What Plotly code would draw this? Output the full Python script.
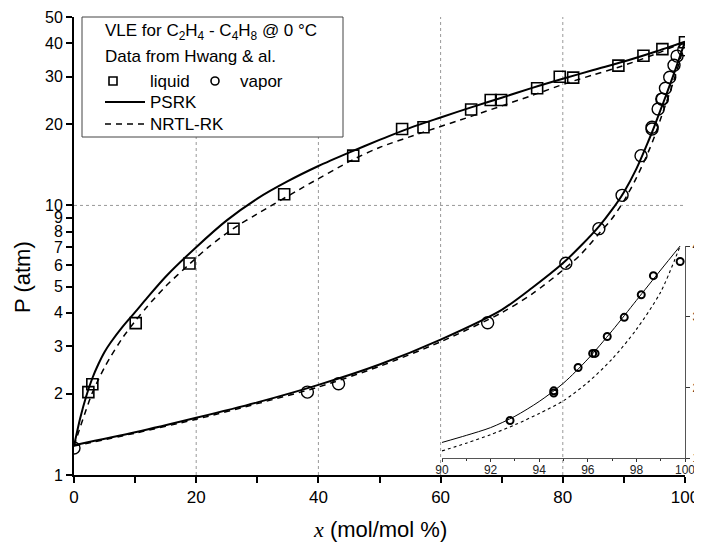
import plotly.graph_objects as go
import math

# ---------------- data ----------------
# PSRK bubble (liquid) curve
psrk_liq_x = [0, 1, 2, 3, 4, 5, 6, 8, 10, 12, 15, 20, 25, 30, 35, 40, 45, 50, 55, 60, 65, 70, 75, 80, 85, 90, 95, 100]
psrk_liq_p = [1.28, 1.62, 1.96, 2.285, 2.58, 2.86, 3.10, 3.56, 4.02, 4.55, 5.44, 7.0, 8.8, 10.6, 12.3, 14.0, 15.7, 17.5, 19.4, 21.2, 23.1, 25.1, 27.3, 29.5, 31.8, 34.2, 37.1, 40.5]
# PSRK dew (vapor) curve
psrk_vap_x = [0, 10, 20, 30, 40, 50, 60, 70, 75, 80, 83, 86, 88, 90, 92, 94, 95, 96, 97, 98, 99, 100]
psrk_vap_p = [1.29, 1.44, 1.63, 1.86, 2.16, 2.57, 3.18, 4.1, 4.95, 6.1, 7.1, 8.4, 9.6, 11.2, 13.6, 17.3, 19.7, 22.6, 26.0, 30.0, 34.8, 40.5]
# NRTL-RK bubble curve
nrtl_liq_x = [0, 1, 2, 3, 4, 5, 6, 8, 10, 12, 15, 19, 22, 26, 30, 37, 45.7, 50, 57.2, 65, 70, 75, 80.6, 85, 89, 95, 100]
nrtl_liq_p = [1.28, 1.50, 1.75, 2.02, 2.26, 2.51, 2.75, 3.24, 3.72, 4.22, 5.01, 6.09, 7.0, 8.19, 9.3, 11.5, 14.8, 16.4, 18.7, 21.4, 23.4, 25.6, 28.4, 30.5, 32.5, 36.3, 40.5]
# NRTL-RK dew curve
nrtl_vap_x = [0, 10, 20, 30, 40, 50, 60, 70, 75, 80, 83, 86, 88, 90, 92, 94, 95, 96, 97, 98, 99, 100]
nrtl_vap_p = [1.28, 1.43, 1.61, 1.84, 2.12, 2.53, 3.12, 4.0, 4.7, 5.75, 6.6, 7.9, 8.9, 10.4, 12.6, 15.8, 18.0, 20.9, 24.3, 28.3, 33.5, 40.5]

# Experimental data (Hwang & al.)
liq_x = [2.35, 3.0, 10.1, 18.9, 26.1, 34.4, 45.7, 53.7, 57.2, 65.0, 68.2, 69.9, 75.8, 79.5, 81.7, 89.1, 93.2, 96.3, 100]
liq_p = [2.03, 2.17, 3.66, 6.09, 8.19, 11.0, 15.3, 19.2, 19.5, 22.7, 24.6, 24.6, 27.2, 30.0, 29.8, 33.0, 35.9, 38.0, 40.3]
vap_x = [0, 38.2, 43.3, 67.7, 80.5, 85.9, 89.7, 92.8, 94.6, 94.6, 95.6, 96.2, 96.3, 96.8, 97.5, 98.2, 98.7, 99.8]
vap_p = [1.26, 2.03, 2.18, 3.67, 6.1, 8.2, 10.9, 15.3, 19.5, 19.2, 22.8, 24.8, 24.8, 27.2, 29.9, 33.1, 35.8, 37.8]

# Inset (zoom on vapor branch 90-100 %)
inset_psrk_x = [90, 91, 92, 93, 94, 95, 96, 97, 98, 99, 99.8]
inset_psrk_p = [12.2, 13.2, 14.3, 15.9, 18.0, 20.6, 24.0, 28.0, 32.3, 36.6, 40.0]
inset_nrtl_x = [90, 91, 92, 93, 94, 95, 96, 97, 98, 99, 99.8]
inset_nrtl_p = [11.0, 12.1, 13.3, 14.7, 16.3, 18.1, 20.7, 24.0, 28.2, 33.5, 40.0]

y_tickvals = [1, 2, 3, 4, 5, 6, 7, 8, 9, 10, 20, 30, 40, 50]
x_tickvals = [0, 20, 40, 60, 80, 100]
grid_x = [20, 40, 60, 80]
grid_y = [10]

FONT = "Liberation Sans, Arial, sans-serif"
# page body has an 8px margin: figure drawn at (8, 8) in the 702x543 window
OFF = 8
W, H = 702 - OFF, 543 - OFF
# plot area in window pixels (reference)
PL, PR, PT, PB = 74, 685, 17, 475
L, R, T, B = PL - OFF, W - (PR - OFF), PT - OFF, H - (PB - OFF)
PW, PH = PR - PL, PB - PT


def px(xp):
    return (xp - PL) / PW


def py(yp):
    return (PB - yp) / PH


YMAX = 50
fig = go.Figure()

solid = dict(color="black", width=2)
dashed = dict(color="black", width=1.5, dash="6px,5px")
sp = dict(shape="spline", smoothing=0.8)

fig.add_trace(go.Scatter(x=psrk_liq_x, y=psrk_liq_p, mode="lines", line=dict(solid, **sp)))
fig.add_trace(go.Scatter(x=psrk_vap_x, y=psrk_vap_p, mode="lines", line=dict(solid, **sp)))
fig.add_trace(go.Scatter(x=nrtl_liq_x, y=nrtl_liq_p, mode="lines", line=dict(dashed, **sp)))
fig.add_trace(go.Scatter(x=nrtl_vap_x, y=nrtl_vap_p, mode="lines", line=dict(dashed, **sp)))
fig.add_trace(go.Scatter(x=liq_x, y=liq_p, mode="markers",
                         marker=dict(symbol="square-open", size=11, color="black", line=dict(width=1.6))))
fig.add_trace(go.Scatter(x=vap_x, y=vap_p, mode="markers",
                         marker=dict(symbol="circle-open", size=12, color="black", line=dict(width=1.4))))

# inset
fig.add_trace(go.Scatter(x=inset_psrk_x, y=inset_psrk_p, xaxis="x2", yaxis="y2", mode="lines",
                         line=dict(color="black", width=1, **sp)))
fig.add_trace(go.Scatter(x=inset_nrtl_x, y=inset_nrtl_p, xaxis="x2", yaxis="y2", mode="lines",
                         line=dict(color="black", width=1.1, dash="dot", **sp)))
fig.add_trace(go.Scatter(x=vap_x, y=vap_p, xaxis="x2", yaxis="y2", mode="markers",
                         marker=dict(symbol="circle-open", size=7, color="black", line=dict(width=2))))

shapes = []
for gx in grid_x:
    shapes.append(dict(type="line", xref="x", yref="paper", x0=gx, x1=gx, y0=0, y1=1,
                       line=dict(color="#999999", width=1, dash="dot"), layer="below"))
for gy in grid_y:
    yy = math.log10(gy) / math.log10(YMAX)
    shapes.append(dict(type="line", xref="paper", yref="paper", x0=0, x1=1, y0=yy, y1=yy,
                       line=dict(color="#999999", width=1, dash="dot"), layer="below"))

# legend box
shapes.append(dict(type="rect", xref="paper", yref="paper", x0=px(82), x1=px(343), y0=py(137), y1=py(17),
                   line=dict(color="#444444", width=1), fillcolor="white", layer="below"))
# legend symbols
shapes.append(dict(type="rect", xref="paper", yref="paper", xsizemode="pixel", ysizemode="pixel",
                   xanchor=px(113), yanchor=py(81), x0=-4, x1=4, y0=-4, y1=4,
                   line=dict(color="black", width=1.6)))
shapes.append(dict(type="circle", xref="paper", yref="paper", xsizemode="pixel", ysizemode="pixel",
                   xanchor=px(215), yanchor=py(81), x0=-4, x1=4, y0=-4, y1=4,
                   line=dict(color="black", width=1.6)))
shapes.append(dict(type="line", xref="paper", yref="paper", x0=px(105), x1=px(145), y0=py(102), y1=py(102),
                   line=dict(color="black", width=2)))
shapes.append(dict(type="line", xref="paper", yref="paper", x0=px(105), x1=px(145), y0=py(124), y1=py(124),
                   line=dict(color="black", width=1.5, dash="6px,5px")))

ann = []


def lab(text, xp, yp, size=17):
    ann.append(dict(text=text, xref="paper", yref="paper", x=px(xp), y=py(yp), xanchor="left",
                    yanchor="middle", showarrow=False, font=dict(family=FONT, size=size, color="black")))


lab("VLE for C<sub>2</sub>H<sub>4</sub> - C<sub>4</sub>H<sub>8</sub> @ 0 °C", 103, 32)
lab("Data from Hwang & al.", 103, 57)
lab("liquid", 148, 81)
lab("vapor", 238, 81)
lab("PSRK", 148, 102)
lab("NRTL-RK", 148, 124)

ann.append(dict(text="<span style=\"font-family:'Liberation Serif', 'Times New Roman', serif\"><i>x</i></span> (mol/mol %)",
                xref="paper", yref="paper", x=0.5, y=py(529), xanchor="center", yanchor="middle",
                showarrow=False, font=dict(family=FONT, size=22, color="black")))
ann.append(dict(text="P (atm)", xref="paper", yref="paper", x=px(22), y=py(277), xanchor="center",
                yanchor="middle", textangle=-90, showarrow=False, font=dict(family=FONT, size=22, color="black")))

fig.update_layout(
    width=W, height=H,
    margin=dict(l=L, r=R, t=T, b=B, pad=0),
    paper_bgcolor="white", plot_bgcolor="rgba(0,0,0,0)",
    showlegend=False,
    font=dict(family=FONT, size=17, color="black"),
    shapes=shapes, annotations=ann,
    xaxis=dict(range=[0, 100], tickvals=x_tickvals, ticks="outside", ticklen=6, tickwidth=1.5,
               tickcolor="black", showline=True, linecolor="black", linewidth=2, showgrid=False,
               zeroline=False, minor=dict(dtick=10, ticks="outside", ticklen=6, tickwidth=1.5, tickcolor="black"),
               tickfont=dict(size=17), automargin=False),
    yaxis=dict(type="log", range=[0, math.log10(YMAX)], tickvals=y_tickvals,
               ticktext=[str(v) for v in y_tickvals], ticks="outside", ticklen=6, tickwidth=1.5,
               tickcolor="black", showline=True, linecolor="black", linewidth=2, showgrid=False,
               zeroline=False, tickfont=dict(size=16), automargin=False),
    xaxis2=dict(domain=[px(442), 1.0], anchor="y2", range=[90, 100], dtick=2, ticks="outside", ticklen=3,
                tickwidth=1, tickcolor="#333333", showline=True, linecolor="#555555", linewidth=1,
                showgrid=False, zeroline=False, tickfont=dict(size=12, color="#222222"),
                ticklabelstandoff=-2,
                minor=dict(dtick=1, ticks="outside", ticklen=2, tickcolor="#333333"), automargin=False),
    yaxis2=dict(domain=[py(458), py(246)], anchor="x2", side="right", range=[10, 40], dtick=10,
                ticks="outside", ticklen=4, tickwidth=1, tickcolor="#333333", showline=True,
                linecolor="#555555", linewidth=1, showgrid=False, zeroline=False,
                tickfont=dict(size=12, color="#222222"), automargin=False),
)

fig.write_html("out.html")
